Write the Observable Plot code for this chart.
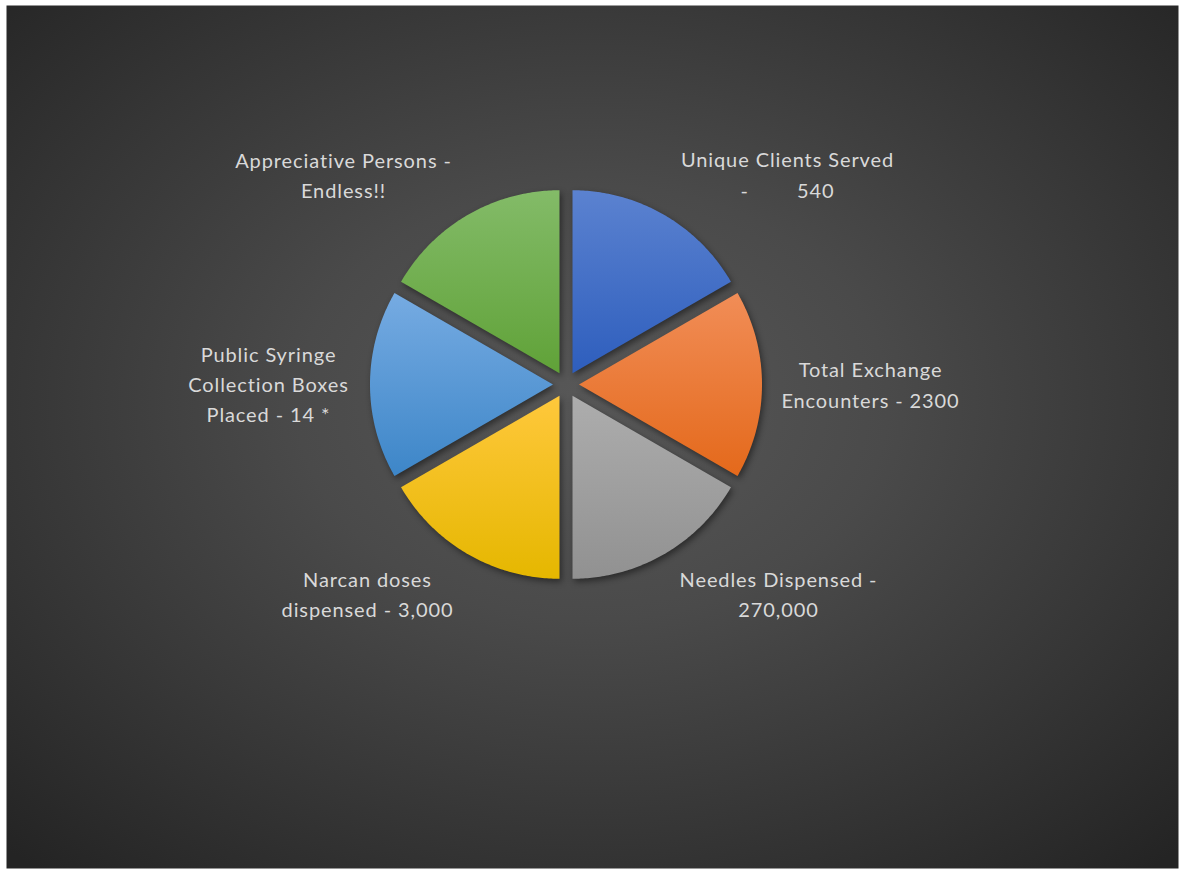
<!DOCTYPE html>
<html>
<head>
<meta charset="utf-8">
<script src="https://cdn.jsdelivr.net/npm/d3@7"></script>
<script src="https://cdn.jsdelivr.net/npm/@observablehq/plot@0.6"></script>
<style>
  html, body { margin: 0; padding: 0; background: #fff; }
  #chart svg { display: block; background: #fff; }
  #chart svg text { letter-spacing: 0.9px; white-space: pre; }
</style>
</head>
<body>
<div id="chart"></div>
<script>
// ---- data ----
const categories = [
  "Unique Clients Served",
  "Total Exchange Encounters",
  "Needles Dispensed",
  "Narcan doses dispensed",
  "Public Syringe Collection Boxes Placed",
  "Appreciative Persons"
];
// all slices are drawn with equal share
const sliceValues = [1, 1, 1, 1, 1, 1];
const labelTexts = [
  "Unique Clients Served\n-\u00a0\u00a0\u00a0\u00a0\u00a0\u00a0\u00a0\u00a0540",
  "Total Exchange\nEncounters - 2300",
  "Needles Dispensed -\n270,000",
  "Narcan doses\ndispensed - 3,000",
  "Public Syringe\nCollection Boxes\nPlaced - 14 *",
  "Appreciative Persons -\nEndless!!"
];
const sliceColors = [
  ["#5b82d0", "#2e5ebd"],
  ["#f18d57", "#e4691b"],
  ["#adadad", "#919191"],
  ["#ffc83c", "#e5b700"],
  ["#76abe2", "#3d86c8"],
  ["#83bb68", "#60a238"]
];

// ---- layout (pie geometry in data units, 1 unit ~ 1px, pie centre at 0,0) ----
const R = 183;        // pie radius
const explode = 13;   // explosion offset
// outside-end label placement relative to pie centre
const labelOffsets = [
  {dx: 221.5, dy: 211.8}, {dx: 304.5, dy: 1.8}, {dx: 212.5, dy: -207.7},
  {dx: -198.5, dy: -207.7}, {dx: -297.5, dy: 2.3}, {dx: -222.5, dy: 211.3}
];

const pie = d3.pie().sort(null).value(d => d)(sliceValues);

const slicePts = pie.map((p, i) => {
  const mid = (p.startAngle + p.endAngle) / 2;
  const ox = explode * Math.sin(mid), oy = explode * Math.cos(mid);
  const pts = [{x: ox, y: oy}];
  const n = 90;
  for (let k = 0; k <= n; k++) {
    const a = p.startAngle + (p.endAngle - p.startAngle) * k / n;
    pts.push({x: ox + R * Math.sin(a), y: oy + R * Math.cos(a)});
  }
  return pts;
});

const labels = labelTexts.map((t, i) => ({text: t, x: labelOffsets[i].dx, y: labelOffsets[i].dy}));

const plot = Plot.plot({
  width: 1180,
  height: 871,
  marginLeft: 6, marginTop: 5, marginRight: 2, marginBottom: 3,
  x: {domain: [-559.5, 612.5], axis: null},
  y: {domain: [-484, 379], axis: null},
  style: {background: "#fff", color: "#d9d9d9"},
  marks: [
    Plot.frame({fill: "#3a3a3a", stroke: "none"}),
    ...slicePts.map((pts, i) => Plot.line(pts, {
      x: "x", y: "y", curve: "linear-closed",
      fill: sliceColors[i][0], stroke: "none"
    })),
    Plot.text(labels, {
      x: "x", y: "y", text: "text",
      fill: "#d9d9d9", fontSize: 20, lineHeight: 1.52,
      fontFamily: "Lato, 'Open Sans', sans-serif", textAnchor: "middle"
    })
  ]
});

// gradients
const ns = "http://www.w3.org/2000/svg";
const defs = document.createElementNS(ns, "defs");
let html = `<radialGradient id="bgGrad" cx="0.5" cy="0.46" r="0.72">
  <stop offset="0" stop-color="#585858"/>
  <stop offset="0.35" stop-color="#4a4a4a"/>
  <stop offset="1" stop-color="#242424"/>
</radialGradient>`;
sliceColors.forEach((c, i) => {
  html += `<linearGradient id="slice${i}" x1="0" y1="0" x2="0" y2="1">
    <stop offset="0" stop-color="${c[0]}"/><stop offset="1" stop-color="${c[1]}"/></linearGradient>`;
});
defs.innerHTML = html;
plot.insertBefore(defs, plot.firstChild);

const bg = plot.querySelector('g[aria-label="frame"]') || plot.querySelector('rect');
if (bg) {
  bg.setAttribute("fill", "url(#bgGrad)");
  bg.querySelectorAll("rect").forEach(r => r.setAttribute("fill", "url(#bgGrad)"));
}
plot.querySelectorAll('g[aria-label="line"]').forEach((g, i) => {
  g.setAttribute("fill", `url(#slice${i})`);
  g.querySelectorAll("path").forEach(p => p.setAttribute("fill", `url(#slice${i})`));
  g.style.filter = "drop-shadow(2px 3px 3px rgba(0,0,0,0.45))";
});

document.getElementById("chart").appendChild(plot);
</script>
</body>
</html>
